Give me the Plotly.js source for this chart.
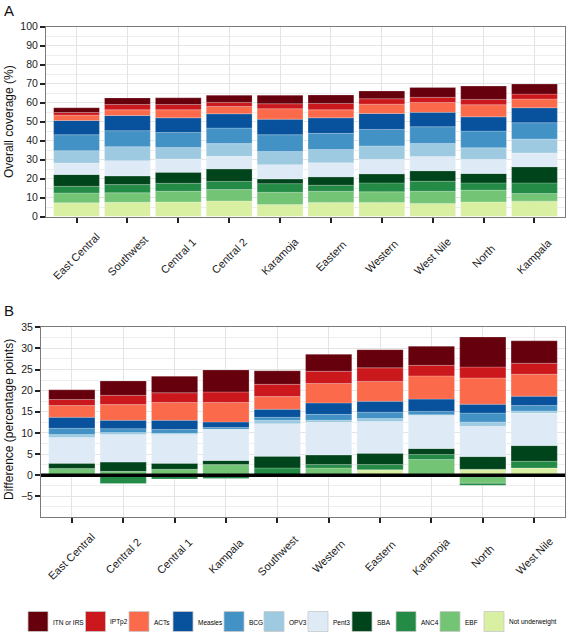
<!DOCTYPE html>
<html>
<head>
<meta charset="utf-8">
<script src="https://cdn.plot.ly/plotly-3.0.1.min.js"></script>
<style>html,body{margin:0;padding:0;background:#fff;}#chart{width:566px;height:633px;}</style>
</head>
<body>
<div id="chart"></div>
<script>
// ---------- DATA ----------
var components = ['Not underweight','EBF','ANC4','SBA','Pent3','OPV3','BCG','Measles','ACTs','IPTp2','ITN or IRS'];

// Panel A: overall coverage (%)
var regionsA = ['East Central','Southwest','Central 1','Central 2','Karamoja','Eastern','Western','West Nile','North','Kampala'];
var notUnderweightA = [7.2, 7.5, 7.7, 8.2, 6.3, 7.4, 7.4, 6.9, 7.7, 8.1];
var ebfA     = [5.2, 5.0, 5.6, 6.0, 6.5, 5.9, 5.6, 6.4, 6.2, 4.0];
var anc4A    = [3.5, 4.3, 4.2, 4.3, 4.5, 3.2, 4.7, 5.3, 3.8, 5.6];
var sbaA     = [6.2, 4.6, 5.8, 6.6, 2.5, 4.4, 4.8, 5.5, 5.0, 8.5];
var pent3A   = [6.1, 8.0, 7.0, 6.6, 7.5, 7.4, 7.6, 7.5, 7.4, 7.3];
var opv3A    = [6.5, 7.4, 6.0, 6.7, 6.9, 7.0, 7.1, 6.9, 6.1, 7.3];
var bcgA     = [8.4, 8.4, 8.0, 8.2, 8.9, 8.5, 8.7, 8.8, 8.8, 8.6];
var measlesA = [7.5, 8.0, 7.7, 7.5, 8.2, 8.2, 8.4, 7.6, 7.5, 7.9];
var actsA    = [2.8, 3.0, 4.2, 3.9, 5.5, 4.2, 4.9, 5.2, 6.4, 4.6];
var iptp2A   = [1.4, 2.8, 2.8, 2.1, 2.6, 3.4, 2.8, 2.7, 2.8, 2.6];
var itnA     = [2.5, 3.5, 3.5, 3.8, 4.5, 4.4, 4.1, 5.2, 7.0, 5.3];

// Panel B: difference (percentage points)
var regionsB = ['East Central','Central 2','Central 1','Kampala','Southwest','Western','Eastern','Karamoja','North','West Nile'];
var notUnderweightB = [0, 0, 0, 0, 0, 0, 1.3, 0, 1.4, 1.7];
var ebfB     = [1.6, 0.9, 1.4, 2.5, 0, 1.7, 0, 3.7, -1.9, 0];
var anc4B    = [0, -2.0, -0.9, -0.8, 1.7, 0.8, 1.2, 1.2, -0.5, 1.6];
var sbaB     = [1.2, 2.2, 1.4, 1.0, 2.8, 2.3, 2.7, 1.4, 3.0, 3.7];
var pent3B   = [6.1, 6.5, 6.8, 7.3, 7.7, 7.7, 7.5, 7.8, 7.2, 7.7];
var opv3B    = [0.7, 0.5, 0.3, 0.1, 0.8, 0.5, 0.7, 0.2, 1.0, 0.5];
var bcgB     = [1.5, 0.9, 0.9, 0.4, 0.7, 1.4, 1.5, 0.8, 2.1, 1.3];
var measlesB = [2.6, 2.0, 2.2, 1.3, 1.9, 2.7, 2.6, 2.9, 2.1, 2.2];
var actsB    = [2.8, 3.7, 4.2, 4.6, 3.0, 4.6, 4.7, 5.5, 6.2, 5.2];
var iptp2B   = [1.4, 2.2, 2.3, 2.5, 2.9, 2.9, 3.2, 2.5, 2.6, 2.6];
var itnB     = [2.3, 3.4, 3.9, 5.2, 3.2, 4.0, 4.3, 4.5, 7.1, 5.3];

var legendOrder = ['ITN or IRS','IPTp2','ACTs','Measles','BCG','OPV3','Pent3','SBA','ANC4','EBF','Not underweight'];

// ---------- STYLE ----------
var colors = {
  'Not underweight':'#d9f0a3','EBF':'#74c476','ANC4':'#238b45','SBA':'#00441b',
  'Pent3':'#deebf7','OPV3':'#9ecae1','BCG':'#4292c6','Measles':'#08519c',
  'ACTs':'#fb6a4a','IPTp2':'#cb181d','ITN or IRS':'#67000d'
};
var seriesA = [notUnderweightA, ebfA, anc4A, sbaA, pent3A, opv3A, bcgA, measlesA, actsA, iptp2A, itnA];
var seriesB = [notUnderweightB, ebfB, anc4B, sbaB, pent3B, opv3B, bcgB, measlesB, actsB, iptp2B, itnB];

var W = 566, H = 633;
function px(x){ return x / W; }
function py(y){ return (H - y) / H; }

var traces = [];
components.forEach(function(c, i){
  traces.push({type:'bar', x: regionsA, y: seriesA[i], name: c, xaxis:'x', yaxis:'y',
    marker:{color: colors[c], line:{color:'rgba(255,255,255,0.35)', width:0.6}}, showlegend:false, hoverinfo:'x+y+name'});
});
components.forEach(function(c, i){
  traces.push({type:'bar', x: regionsB, y: seriesB[i], name: c, xaxis:'x2', yaxis:'y2',
    marker:{color: colors[c], line:{color:'rgba(255,255,255,0.35)', width:0.6}}, showlegend:false, hoverinfo:'x+y+name'});
});

var axCommon = {
  showline:true, linecolor:'#7a7a7a', linewidth:1, mirror:true,
  ticks:'outside', ticklen:5, tickwidth:2, tickcolor:'#222',
  showgrid:true, gridcolor:'#e4e4e4', gridwidth:1, zeroline:false,
  automargin:false, fixedrange:true, tickfont:{size:10.5, color:'#222'}
};
function ext(o, extra){ var r = {}; for (var k in o) r[k]=o[k]; for (var k2 in extra) r[k2]=extra[k2]; return r; }

var annotations = [
  {text:'A', xref:'paper', yref:'paper', x:px(2), y:py(0), xanchor:'left', yanchor:'top', showarrow:false, font:{size:15, color:'#111'}},
  {text:'B', xref:'paper', yref:'paper', x:px(2), y:py(300), xanchor:'left', yanchor:'top', showarrow:false, font:{size:15, color:'#111'}},
  {text:'Overall coverage (%)', xref:'paper', yref:'paper', x:px(9), y:py(122), xanchor:'center', yanchor:'middle', textangle:-90, showarrow:false, font:{size:12, color:'#111'}},
  {text:'Difference (percentage points)', xref:'paper', yref:'paper', x:px(9), y:py(420), xanchor:'center', yanchor:'middle', textangle:-90, showarrow:false, font:{size:12, color:'#111'}}
];
// category labels, rotated 45 degrees and centred under their ticks
regionsA.forEach(function(r){
  annotations.push({text:r, xref:'x', yref:'paper', x:r, y:py(256), xanchor:'center', yanchor:'middle',
    textangle:-45, showarrow:false, font:{size:11, color:'#222'}});
});
regionsB.forEach(function(r){
  annotations.push({text:r, xref:'x2', yref:'paper', x:r, y:py(556), xanchor:'center', yanchor:'middle',
    textangle:-45, showarrow:false, font:{size:11, color:'#222'}});
});

var shapes = [
  {type:'line', xref:'x2 domain', yref:'y2', x0:0, x1:1, y0:0, y1:0, line:{color:'#000', width:3.5}, layer:'above'}
];

// manual legend (large square swatches)
var legendLeft = [28, 85.5, 129, 173, 224, 264, 308, 352, 396, 440, 484];
legendOrder.forEach(function(c, i){
  var x0 = legendLeft[i];
  shapes.push({type:'rect', xref:'paper', yref:'paper', x0:px(x0), x1:px(x0+20), y0:py(631.5), y1:py(611.5),
    fillcolor: colors[c], line:{color:'#c8c8c8', width:0.8}});
  annotations.push({text:c, xref:'paper', yref:'paper', x:px(x0+22.5), y:py(622), xanchor:'left', yanchor:'middle',
    showarrow:false, font:{size:6.5, color:'#000'}});
});

var layout = {
  width:W, height:H, margin:{l:0,r:0,t:0,b:0},
  paper_bgcolor:'#fff', plot_bgcolor:'#fff',
  font:{family:'Liberation Sans, Arial, Helvetica, sans-serif', size:10.5, color:'#222'},
  barmode:'relative', bargap:0.1,
  showlegend:false,
  xaxis: ext(axCommon, {domain:[px(46), px(565)], anchor:'y', type:'category', range:[-0.6, 9.6], showticklabels:false}),
  yaxis: ext(axCommon, {domain:[py(216.5), py(26.7)], anchor:'x', range:[0, 100], dtick:10, tick0:0,
    minor:{dtick:5, showgrid:true, gridcolor:'#eeeeee', gridwidth:1}}),
  xaxis2: ext(axCommon, {domain:[px(41), px(565)], anchor:'y2', type:'category', range:[-0.6, 9.6], showticklabels:false}),
  yaxis2: ext(axCommon, {domain:[py(517), py(327.3)], anchor:'x2', range:[-9.9, 35], dtick:5, tick0:0,
    minor:{dtick:2.5, showgrid:true, gridcolor:'#eeeeee', gridwidth:1}}),
  annotations: annotations,
  shapes: shapes
};

Plotly.newPlot('chart', traces, layout, {displayModeBar:false, staticPlot:true});
</script>
</body>
</html>
